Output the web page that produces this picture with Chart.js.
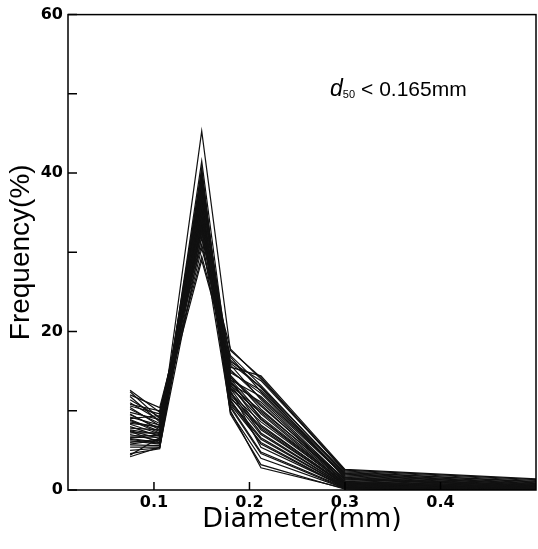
<!DOCTYPE html>
<html lang="en">
<head>
  <meta charset="UTF-8">
  <title>Frequency vs Diameter</title>
  <style>
    body { margin: 0; background: #fff; }
    .wrap { position: relative; width: 538px; height: 549px; }
    #nota {
      position: absolute;
      left: 330px;
      top: 75px;
      font-family: "Liberation Sans", sans-serif;
      font-size: 21px;
      color: #000;
      white-space: nowrap;
    }
    #nota i { font-size: 23px; }
    #nota sub { font-size: 11px; vertical-align: -2px; margin-right: 6px; }
  </style>
</head>
<body>
  <div class="wrap">
    <canvas id="grafico"></canvas>
    <div id="nota"><i>d</i><sub>50</sub>&lt; 0.165mm</div>
  </div>

<script src="https://cdn.jsdelivr.net/npm/chart.js"></script>
<script>
  // sieve sizes (mm)
  const diametros = [0.075, 0.106, 0.15, 0.18, 0.212, 0.3, 0.5];
  const xTicks = [0.1, 0.2, 0.3, 0.4];
  const yTicks = [0, 10, 20, 30, 40, 50, 60];

  // frequency (%) of each sample
  const s01 = [12.6, 9.8, 29.5, 16.2, 13.8, 2.4, 1.2];
  const s02 = [12.0, 10.4, 31.0, 15.5, 14.4, 2.6, 1.4];
  const s03 = [11.4, 9.2, 32.5, 14.8, 12.6, 2.1, 0.9];
  const s04 = [11.0, 8.8, 33.0, 13.9, 11.8, 1.9, 0.7];
  const s05 = [10.6, 9.6, 34.2, 15.0, 12.2, 1.6, 0.6];
  const s06 = [10.2, 8.4, 35.0, 14.2, 10.6, 1.4, 0.5];
  const s07 = [9.8, 8.9, 33.8, 13.4, 11.1, 1.2, 0.4];
  const s08 = [9.5, 7.8, 36.0, 12.8, 9.8, 1.0, 0.3];
  const s09 = [9.2, 8.2, 34.8, 16.4, 12.9, 1.5, 0.6];
  const s10 = [8.9, 7.4, 37.2, 13.6, 9.2, 0.9, 0.2];
  const s11 = [8.6, 7.9, 35.6, 12.2, 8.6, 0.8, 0.3];
  const s12 = [8.3, 7.1, 38.0, 14.5, 10.2, 1.1, 0.4];
  const s13 = [8.0, 6.8, 36.6, 11.6, 7.8, 0.6, 0.2];
  const s14 = [7.8, 7.6, 39.0, 13.0, 8.9, 0.7, 0.1];
  const s15 = [7.5, 6.5, 37.8, 15.8, 11.4, 1.3, 0.5];
  const s16 = [7.2, 7.2, 40.0, 12.4, 7.2, 0.5, 0.1];
  const s17 = [7.0, 6.2, 38.6, 11.2, 6.6, 0.4, 0.1];
  const s18 = [6.8, 6.9, 39.6, 13.3, 8.2, 0.6, 0.2];
  const s19 = [6.5, 6.0, 41.5, 14.0, 9.6, 0.8, 0.3];
  const s20 = [6.2, 5.8, 36.2, 10.8, 6.0, 0.3, 0.0];
  const s21 = [6.0, 6.4, 34.0, 11.8, 7.0, 0.5, 0.1];
  const s22 = [5.7, 5.6, 38.2, 12.6, 5.4, 0.4, 0.0];
  const s23 = [5.4, 5.4, 40.6, 10.4, 4.6, 0.2, 0.0];
  const s24 = [5.0, 5.3, 37.0, 9.8, 4.0, 0.2, 0.0];
  const s25 = [4.6, 5.2, 35.4, 9.6, 3.2, 0.1, 0.0];
  const s26 = [4.2, 5.4, 32.0, 10.0, 2.8, 0.2, 0.0];
  const s27 = [4.4, 6.6, 45.3, 17.6, 14.2, 2.3, 1.0];
  const s28 = [11.8, 8.6, 30.5, 17.0, 13.2, 2.0, 0.8];
  const s29 = [10.8, 10.0, 31.8, 17.8, 14.0, 2.5, 1.3];
  const s30 = [9.0, 9.4, 33.4, 16.8, 12.4, 1.8, 0.7];
  const s31 = [8.4, 8.0, 34.4, 15.2, 11.6, 1.7, 0.6];
  const s32 = [7.6, 7.0, 35.8, 14.4, 10.8, 1.0, 0.3];
  const s33 = [6.6, 6.7, 37.4, 13.8, 9.0, 0.9, 0.2];
  const s34 = [5.8, 6.3, 39.2, 12.0, 8.0, 0.7, 0.2];
  const s35 = [12.4, 9.0, 29.0, 16.0, 13.0, 2.2, 1.1];
  const s36 = [10.4, 8.1, 32.8, 13.2, 10.0, 1.4, 0.5];
  const s37 = [9.6, 7.6, 36.4, 11.0, 6.4, 0.4, 0.1];
  const s38 = [8.8, 7.2, 38.8, 12.8, 7.6, 0.6, 0.1];
  const s39 = [7.4, 6.0, 40.4, 11.4, 5.8, 0.3, 0.0];
  const s40 = [6.4, 5.9, 33.2, 10.6, 4.8, 0.3, 0.0];

  const amostras = [s01, s02, s03, s04, s05, s06, s07, s08, s09, s10,
                    s11, s12, s13, s14, s15, s16, s17, s18, s19, s20,
                    s21, s22, s23, s24, s25, s26, s27, s28, s29, s30,
                    s31, s32, s33, s34, s35, s36, s37, s38, s39, s40];

  // frame + inward ticks, like the original plot
  const molduraTicks = {
    id: 'molduraTicks',
    afterDatasetsDraw(chart) {
      const { ctx, chartArea: a, scales: { x, y } } = chart;
      ctx.save();
      ctx.strokeStyle = '#000';
      ctx.lineWidth = 1.5;
      ctx.strokeRect(a.left, a.top, a.right - a.left, a.bottom - a.top);
      ctx.beginPath();
      y.ticks.forEach(t => {
        const py = y.getPixelForValue(t.value);
        ctx.moveTo(a.left, py);
        ctx.lineTo(a.left + 9, py);
      });
      x.ticks.forEach(t => {
        const px = x.getPixelForValue(t.value);
        ctx.moveTo(px, a.bottom);
        ctx.lineTo(px, a.bottom - 8);
      });
      ctx.stroke();
      ctx.restore();
    }
  };

  const datasets = amostras.map((valores, i) => ({
    label: 'amostra ' + (i + 1),
    data: diametros.map((d, j) => ({ x: d, y: valores[j] })),
    borderColor: '#111',
    borderWidth: 1.2,
    pointRadius: 0,
    tension: 0,
    fill: false
  }));

  new Chart(document.getElementById('grafico'), {
    type: 'line',
    data: { datasets: datasets },
    plugins: [molduraTicks],
    options: {
      responsive: true,
      maintainAspectRatio: false,
      animation: false,
      layout: { padding: { top: 14, right: 2, left: 0, bottom: 0 } },
      plugins: { legend: { display: false }, tooltip: { enabled: false } },
      scales: {
        x: {
          type: 'linear',
          min: 0.01,
          max: 0.5,
          afterBuildTicks: s => { s.ticks = xTicks.map(v => ({ value: v })); },
          afterFit: s => { s.height = 59; },
          grid: { display: false, drawTicks: false },
          border: { display: false },
          ticks: {
            padding: 3,
            color: '#000',
            maxRotation: 0,
            font: { family: 'DejaVu Sans', size: 16, weight: 'bold' },
            callback: v => v.toFixed(1)
          },
          title: {
            display: true,
            text: 'Diameter(mm)',
            color: '#000',
            padding: { top: 0, bottom: 13 },
            font: { family: 'DejaVu Sans', size: 27 }
          }
        },
        y: {
          min: 0,
          max: 60,
          afterBuildTicks: s => { s.ticks = yTicks.map(v => ({ value: v })); },
          afterFit: s => { s.width = 68; },
          grid: { display: false, drawTicks: false },
          border: { display: false },
          ticks: {
            padding: 5,
            color: '#000',
            font: { family: 'DejaVu Sans', size: 16, weight: 'bold' },
            callback: v => (v % 20 === 0 ? v : '')
          },
          title: {
            display: true,
            text: 'Frequency(%)',
            color: '#000',
            padding: { top: 4, bottom: 0 },
            font: { family: 'Liberation Sans', size: 28 }
          }
        }
      }
    }
  });
</script>
</body>
</html>
